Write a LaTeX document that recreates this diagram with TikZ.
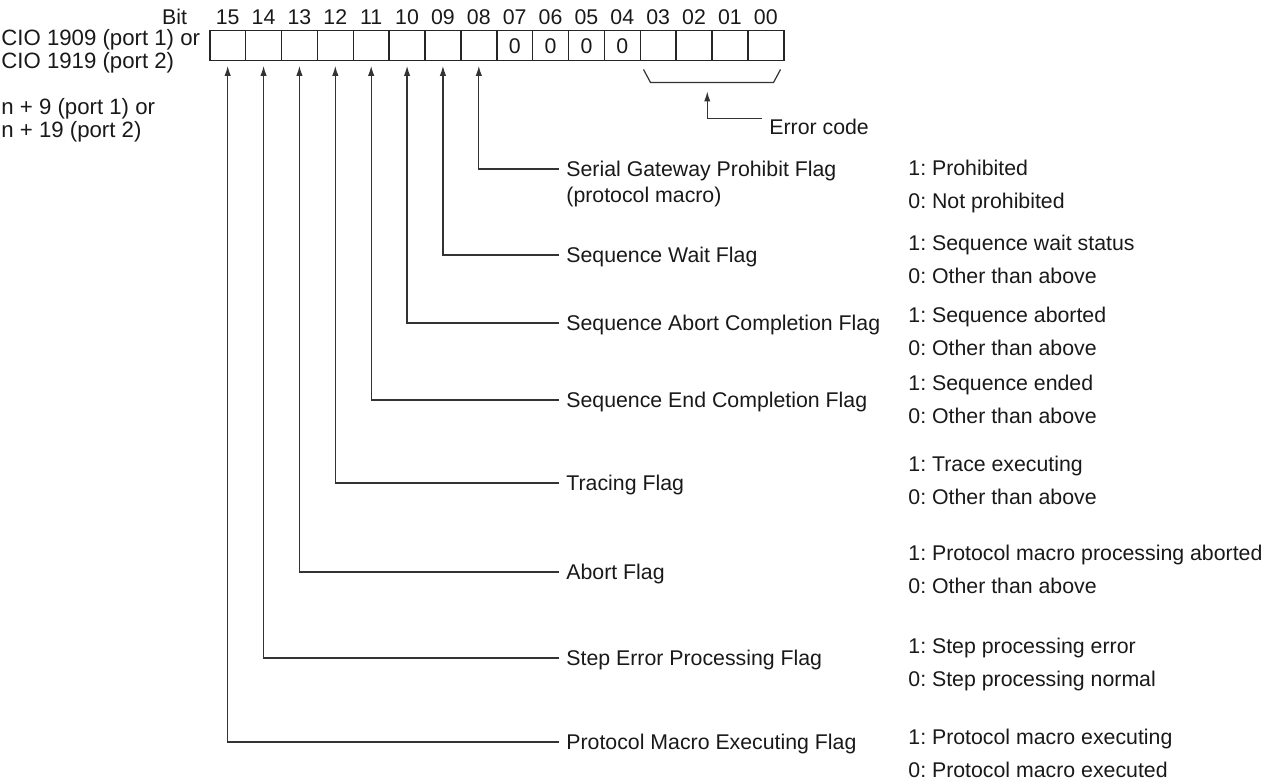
\documentclass[tikz,border=0pt]{standalone}
\usepackage{fontspec}
\setmainfont{Liberation Sans}
\usetikzlibrary{positioning, arrows.meta, calc}
\frenchspacing

\begin{document}
\begin{tikzpicture}[
    x=0.5pt, y=-0.5pt,
    font=\fontsize{10.65}{12}\selectfont, text=black!90,
    cell/.style={draw=black!85, line width=0.75pt, minimum width=17.94pt,
                 minimum height=15pt, inner sep=0pt, anchor=north west},
    flag/.style={anchor=west, inner xsep=3.5pt, inner ysep=0pt,
                 text height=7.7pt, text depth=0pt},
    state/.style={anchor=west, inner sep=0pt, text height=7.7pt, text depth=0pt},
    regtxt/.style={anchor=west, align=left, inner sep=0pt,
                   font=\fontsize{11.1}{9.6}\selectfont},
    lead/.style={-{Latex[length=5pt, width=3.2pt]}, line width=0.6pt,
                 draw=black!80, shorten >=2.2pt},
    wire/.style={line width=0.6pt, draw=black!80}
]
\useasboundingbox (0,0) rectangle (1273,779);

% register word, one cell per bit
\foreach \b [count=\i from 0] in {15,14,13,12,11,10,09,08,07,06,05,04,03,02,01,00}{
  \node[cell] (b\b) at (209+\i*35.875, 30) {};
  \node[inner sep=0pt, above=2.6pt of b\b] (n\b) {\b};
}
\foreach \b in {07,06,05,04}{\node at (b\b) {0};}

\node[inner sep=0pt, left=14pt of n15] (bitlbl) {Bit};
\node[regtxt] (cio) at (1,51) {CIO 1909 (port 1) or\\CIO 1919 (port 2)};
\node[regtxt] (nwd) at (1,120) {n + 9 (port 1) or\\n + 19 (port 2)};

% error code bracket
\draw[wire] ($(b03.south west)+(4,8)$) -- ($(b03.south west)+(11,21)$)
         -- ($(b00.south east)+(-11,21)$) -- ($(b00.south east)+(-4,8)$);
\coordinate (ecode) at ($(b01.south west)+(-4,30)$);
\node[flag] (err) at (762,127) {Error code};
\draw[lead, shorten >=0pt] (err.north west) -| (ecode);

% flag bits
\foreach \b/\y/\txt in {08/169/Serial Gateway Prohibit Flag,
    09/255/Sequence Wait Flag, 10/323/Sequence Abort Completion Flag,
    11/400/Sequence End Completion Flag, 12/483/Tracing Flag,
    13/572/Abort Flag, 14/658/Step Error Processing Flag,
    15/742/Protocol Macro Executing Flag}{
  \node[flag] (f\b) at (559,\y) {\txt};
  \draw[lead] (f\b.west) -| (b\b.south);
}
\node[flag] (f08b) at (559,195) {(protocol macro)};

% meaning of 1 and 0
\foreach \b/\y/\one/\zero in {08/168/Prohibited/Not prohibited,
    09/243/Sequence wait status/Other than above,
    10/315/Sequence aborted/Other than above,
    11/383/Sequence ended/Other than above,
    12/464/Trace executing/Other than above,
    13/553/Protocol macro processing aborted/Other than above,
    14/646/Step processing error/Step processing normal,
    15/737/Protocol macro executing/Protocol macro executed}{
  \node[state] (on\b) at (908,\y) {1: \one};
  \node[state] (off\b) at (908,\y+32.5) {0: \zero};
}
\end{tikzpicture}
\end{document}
